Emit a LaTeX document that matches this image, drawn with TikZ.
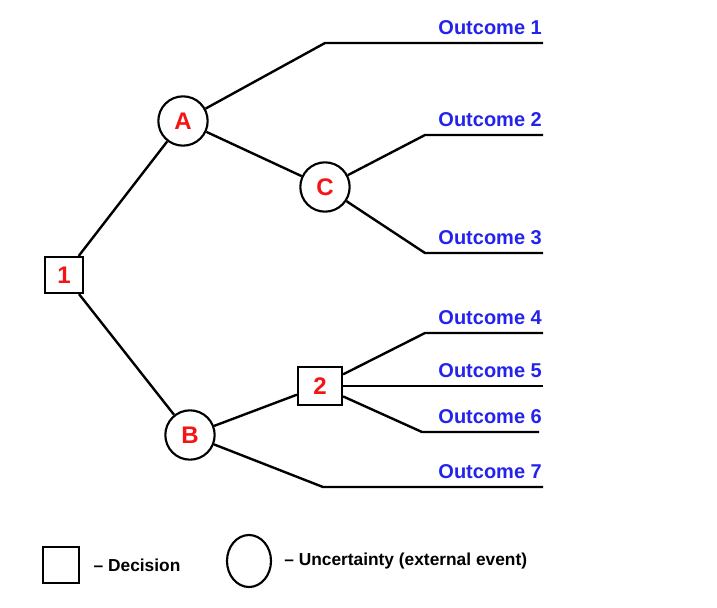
\documentclass[tikz,border=0pt]{standalone}
\usepackage{fontspec}
\setmainfont{Liberation Sans}
\usetikzlibrary{positioning}
\usetikzlibrary{shapes.geometric}
\definecolor{nodered}{RGB}{245,20,20}
\definecolor{outblue}{RGB}{35,35,235}
\tikzset{decision/.style = {draw, line width = 1.6pt, fill = white, minimum width = 28pt,
                            minimum height = 27pt, inner sep = 0, text = nodered,
                            font = \fontsize{18}{18}\selectfont\bfseries}}
\tikzset{chance/.style = {draw, circle, line width = 1.6pt, minimum size = 37pt, inner sep = 0,
                          text = nodered, font = \fontsize{18}{18}\selectfont\bfseries}}
\tikzset{branch/.style = {line width = 1.8pt}}
\tikzset{outcome/.style = {anchor = south east, inner sep = 0, yshift = 5pt, text = outblue,
                           font = \fontsize{15}{15}\selectfont\bfseries}}
\tikzset{keytext/.style = {inner sep = 0, font = \fontsize{13}{13}\selectfont\bfseries}}

\begin{document}
\begin{tikzpicture}[x = 0.75pt, y = -0.75pt]
      \useasboundingbox (0, 0) rectangle (717, 607);
      % decision and chance nodes
      \node [decision] (d1) at (64, 275) {1};
      \node [chance] (A) at (183, 121) {A};
      \node [chance] (C) at (325, 187) {C};
      \node [chance] (B) at (190, 435) {B};
      \node [decision, minimum width = 33pt, minimum height = 28pt] (d2) at (320, 386) {2};
      % kinks and ends of the outcome lines
      \coordinate (k1) at (325, 43);   \coordinate (o1) at (543, 43);
      \coordinate (k2) at (425, 135);  \coordinate (o2) at (543, 135);
      \coordinate (k3) at (425, 253);  \coordinate (o3) at (543, 253);
      \coordinate (k4) at (425, 333);  \coordinate (o4) at (543, 333);
      \coordinate (o5) at (543, 386);
      \coordinate (k6) at (422, 432);  \coordinate (o6) at (539, 432);
      \coordinate (k7) at (323, 487);  \coordinate (o7) at (543, 487);
      \draw [branch] (d1) -- (A);
      \draw [branch] (d1) -- (B);
      \draw [branch] (A) -- (C);
      \draw [branch] (B) -- (d2);
      \draw [branch] (A) -- (k1) -- (o1) node (t1) [outcome] {Outcome 1};
      \draw [branch] (C) -- (k2) -- (o2) node (t2) [outcome] {Outcome 2};
      \draw [branch] (C) -- (k3) -- (o3) node (t3) [outcome] {Outcome 3};
      \draw [branch] (d2) -- (k4) -- (o4) node (t4) [outcome] {Outcome 4};
      \draw [branch] (d2) -- (o5) node (t5) [outcome] {Outcome 5};
      \draw [branch] (d2) -- (k6) -- (o6) node (t6) [outcome, xshift = 3pt] {Outcome 6};
      \draw [branch] (B) -- (k7) -- (o7) node (t7) [outcome] {Outcome 7};
      % legend
      \node [decision, minimum width = 27pt, minimum height = 27pt] (keybox) at (61, 565) {};
      \node [keytext, right = 10pt of keybox] (keydecision) {\textendash{} Decision};
      \node [draw, ellipse, line width = 1.6pt, minimum width = 33pt, minimum height = 39pt,
             inner sep = 0] (keycircle) at (249, 561) {};
      \node [keytext, right = 9pt of keycircle] (keychance) {\textendash{} Uncertainty (external event)};
    \end{tikzpicture}
\end{document}
